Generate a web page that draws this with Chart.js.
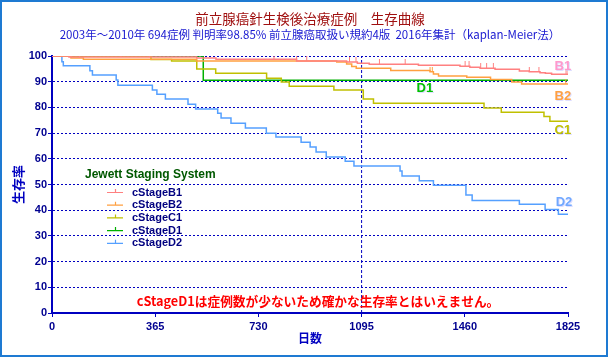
<!DOCTYPE html>
<html><head><meta charset="utf-8">
<script src="https://cdn.jsdelivr.net/npm/chart.js@4/dist/chart.umd.min.js"></script>
<style>html,body{margin:0;padding:0;background:#fff}canvas{display:block}</style>
</head><body>
<canvas id="c" width="608" height="357"></canvas>
<script>
// ---- data ----
const seriesNames = ['cStageB1', 'cStageB2', 'cStageC1', 'cStageD1', 'cStageD2'];
const shortNames  = ['B1', 'B2', 'C1', 'D1', 'D2'];

const b1Days = [0, 60, 512, 580, 865, 1042, 1080, 1122, 1296, 1443, 1478, 1514, 1567, 1653, 1688, 1726, 1745, 1767, 1825];
const b1Surv = [100, 99.6, 99.2, 98.7, 98.1, 97.7, 97.2, 96.8, 96.4, 96.0, 95.6, 95.2, 94.8, 94.2, 93.9, 93.5, 93.3, 92.9, 92.9];

const b2Days = [0, 67, 111, 512, 1007, 1042, 1060, 1076, 1198, 1337, 1349, 1367, 1467, 1551, 1626, 1661, 1825];
const b2Surv = [100, 99.2, 98.7, 98.1, 97.7, 96.9, 95.9, 95.2, 94.4, 93.9, 93.0, 92.2, 91.7, 90.9, 89.9, 89.1, 89.1];

const c1Days = [0, 350, 423, 512, 579, 759, 811, 839, 997, 1101, 1137, 1528, 1589, 1740, 1761, 1825];
const c1Surv = [100, 98.6, 98.1, 94.9, 93.3, 91.3, 89.9, 88.2, 86.8, 83.3, 81.6, 79.8, 78.1, 76.5, 74.6, 74.6];

const d1Days = [0, 535, 1825];
const d1Surv = [100, 90.6, 90.6];

const d2Days = [0, 35, 40, 134, 143, 227, 233, 355, 371, 401, 481, 508, 586, 598, 633, 684, 758, 792, 881, 913, 934, 970, 1037, 1068, 1231, 1238, 1299, 1349, 1464, 1486, 1653, 1744, 1791, 1825];
const d2Surv = [100, 97.8, 96.2, 94.3, 92.6, 90.7, 88.6, 86.8, 85.1, 83.3, 81.2, 79.4, 77.7, 75.9, 73.8, 72.0, 69.9, 68.5, 66.4, 64.6, 62.6, 60.7, 59.0, 57.2, 55.3, 53.3, 51.5, 49.7, 45.9, 43.8, 42.3, 40.3, 38.4, 38.4];

const b1CensorDays = [67, 97, 244, 344, 785, 865, 901, 1052, 1075, 1158, 1249, 1461, 1475, 1516, 1537, 1561, 1688, 1722, 1818, 1825];
const b2CensorDays = [1337, 1345, 1817];

const xTickValues = [0, 365, 730, 1095, 1460, 1825];
const yTickValues = [0, 10, 20, 30, 40, 50, 60, 70, 80, 90, 100];
const refDay = 1095;

const titleText = '前立腺癌針生検後治療症例　生存曲線';
const subtitleText = '2003年～2010年 694症例 判明率98.85% 前立腺癌取扱い規約4版  2016年集計（kaplan-Meier法）';
const legendTitle = 'Jewett Staging System';
const noteText = 'cStageD1は症例数が少ないため確かな生存率とはいえません。';
const xTitle = '日数';
const yTitle = '生存率';

// ---- styles ----
const lineColors  = ['#ff8080', '#ffa040', '#c0c000', '#00b000', '#55a0ff'];
const labelColors = ['#ff99cc', '#ffa040', '#c0c000', '#00c000', '#70a8ff'];
const AXIS = '#0000c0', TICK = '#000090';
const CJK = '"Noto Sans CJK JP", "Liberation Sans", sans-serif';
const LAT = '"Liberation Sans", "DejaVu Sans", sans-serif';

function pts(days, surv) { return days.map((d, i) => ({x: d, y: surv[i]})); }
function stepAt(days, surv, t) {
  let v = surv[0];
  for (let i = 0; i < days.length; i++) { if (days[i] <= t) v = surv[i]; }
  return v;
}
function censorImg(color) {
  const c = document.createElement('canvas');
  c.width = 3; c.height = 10;
  const g = c.getContext('2d');
  g.fillStyle = color; g.fillRect(1, 0, 1, 5);
  return c;
}

const allDays = [b1Days, b2Days, c1Days, d1Days, d2Days];
const allSurv = [b1Surv, b2Surv, c1Surv, d1Surv, d2Surv];

const datasets = seriesNames.map((n, i) => ({
  type: 'line', label: n, data: pts(allDays[i], allSurv[i]),
  borderColor: lineColors[i], borderWidth: 1.5, stepped: 'before',
  pointRadius: 0, fill: false, order: 2
}));
datasets.push({
  type: 'scatter', label: 'b1c', data: b1CensorDays.map(d => ({x: d, y: stepAt(b1Days, b1Surv, d)})),
  pointStyle: censorImg(lineColors[0]), pointRadius: 3, order: 1
});
datasets.push({
  type: 'scatter', label: 'b2c', data: b2CensorDays.map(d => ({x: d, y: stepAt(b2Days, b2Surv, d)})),
  pointStyle: censorImg(lineColors[1]), pointRadius: 3, order: 1
});
datasets.push({
  type: 'line', label: 'ref', data: [{x: refDay, y: 0}, {x: refDay, y: 100}],
  borderColor: AXIS, borderWidth: 1, borderDash: [3, 2], pointRadius: 0, order: 3
});

const decor = {
  id: 'decor',
  beforeDraw(chart) {
    const g = chart.ctx;
    g.save(); g.fillStyle = '#fff'; g.fillRect(0, 0, chart.width, chart.height); g.restore();
  },
  afterDraw(chart) {
    const g = chart.ctx, xs = chart.scales.x, ys = chart.scales.y;
    g.save();
    // series end labels
    const lblPos = [[1807, 96.1], [1807, 84.4], [1807, 71.2], [1319, 87.2], [1811, 43.2]];
    g.font = 'bold 13px ' + LAT; g.textAlign = 'center'; g.textBaseline = 'middle';
    shortNames.forEach((s, i) => {
      const x = xs.getPixelForValue(lblPos[i][0]), y = ys.getPixelForValue(lblPos[i][1]);
      g.fillStyle = 'rgba(200,200,255,0.6)'; g.fillText(s, x + 1, y + 1);
      g.fillStyle = labelColors[i]; g.fillText(s, x, y);
    });
    // legend
    g.textAlign = 'left';
    g.font = 'bold 12px ' + LAT; g.fillStyle = '#005800';
    g.fillText(legendTitle, 85, 175);
    g.font = 'bold 11px ' + LAT;
    seriesNames.forEach((n, i) => {
      const y = 192 + i * 12.7;
      g.strokeStyle = lineColors[i]; g.lineWidth = 1.2;
      g.beginPath(); g.moveTo(107, y + 0.5); g.lineTo(123, y + 0.5);
      g.moveTo(115.5, y - 3); g.lineTo(115.5, y); g.stroke();
      g.fillStyle = '#000080'; g.fillText(n, 132, y + 0.5);
    });
    // note
    g.font = 'bold 12.7px ' + CJK; g.textAlign = 'center'; g.fillStyle = '#ff0000';
    g.fillText(noteText, 318, 301.5);
    // outer frame
    g.strokeStyle = '#1e7ad2'; g.lineWidth = 2;
    g.strokeRect(1, 1, chart.width - 2, chart.height - 2);
    g.restore();
  }
};

new Chart(document.getElementById('c'), {
  data: {datasets},
  options: {
    responsive: false, animation: false, devicePixelRatio: 1,
    layout: {padding: {left: 0, right: 40, top: 0, bottom: 0}},
    plugins: {
      legend: {display: false}, tooltip: {enabled: false},
      title: {display: true, text: titleText, fullSize: false, color: '#a01010',
        font: {family: CJK, size: 13.5, weight: 'normal'}, padding: {top: 11, bottom: 0}},
      subtitle: {display: true, text: subtitleText, fullSize: false, color: '#1818d0',
        font: {family: CJK, size: 11.5, weight: 'normal'}, padding: {top: 1, bottom: 14}}
    },
    scales: {
      x: {
        type: 'linear', min: 0, max: 1825,
        afterBuildTicks: s => { s.ticks = xTickValues.map(v => ({value: v})); },
        afterFit: s => { s.height = 44; },
        ticks: {color: TICK, font: {family: LAT, size: 11, weight: 'bold'}, padding: 3, autoSkip: false, maxRotation: 0,
          callback: v => String(v)},
        grid: {drawOnChartArea: false, drawTicks: true, tickLength: 4, tickColor: AXIS, tickWidth: 1},
        border: {color: AXIS, width: 2},
        title: {display: true, text: xTitle, color: AXIS, font: {family: CJK, size: 12, weight: 'bold'}, padding: {top: 0, bottom: 11}}
      },
      y: {
        min: 0, max: 100,
        afterBuildTicks: s => { s.ticks = yTickValues.map(v => ({value: v})); },
        afterFit: s => { s.width = 52; },
        ticks: {color: TICK, font: {family: LAT, size: 11, weight: 'bold'}, padding: 1, callback: v => String(v)},
        grid: {drawOnChartArea: true, drawTicks: true, tickLength: 4, lineWidth: 1,
          color: c => (c.tick && c.tick.value === 0) ? 'rgba(0,0,0,0)' : AXIS,
          tickColor: AXIS, tickWidth: 1},
        border: {color: AXIS, width: 2, dash: [2, 2]},
        title: {display: true, text: yTitle, color: AXIS, font: {family: CJK, size: 13, weight: 'bold'}, padding: {top: 10, bottom: 0}}
      }
    }
  },
  plugins: [decor]
});
</script>
</body></html>
